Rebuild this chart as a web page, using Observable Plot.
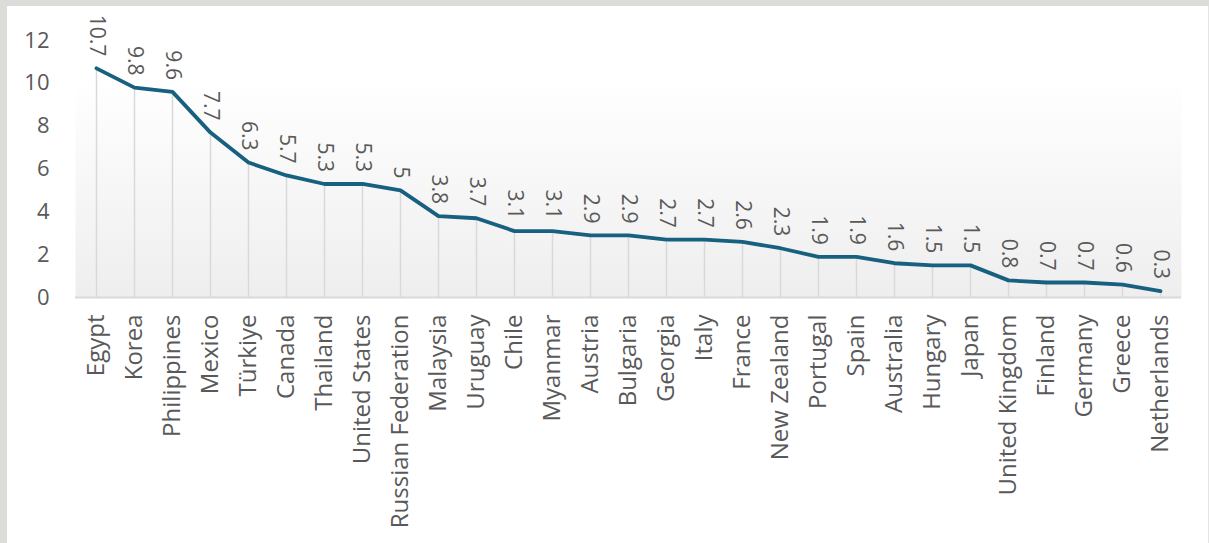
<!DOCTYPE html>
<html>
<head>
<meta charset="utf-8">
<script src="https://cdn.jsdelivr.net/npm/d3@7"></script>
<script src="https://cdn.jsdelivr.net/npm/@observablehq/plot@0.6"></script>
<style>
  html, body { margin: 0; padding: 0; background: #ffffff; }
  #frame { position: absolute; left: 0; top: 0; width: 1209px; height: 543px; background: #dcdcd8; overflow: hidden; }
  #inner { position: absolute; left: 7px; top: 6px; width: 1201px; height: 537px; background: #ffffff; border-right: 1px solid #e4e4e4; }
  #chart { position: absolute; left: 0; top: 0; }
</style>
</head>
<body>
<div id="frame"><div id="inner"><div id="chart"></div></div></div>
<script>
const countries = ["Egypt","Korea","Philippines","Mexico","Türkiye","Canada","Thailand","United States","Russian Federation","Malaysia","Uruguay","Chile","Myanmar","Austria","Bulgaria","Georgia","Italy","France","New Zealand","Portugal","Spain","Australia","Hungary","Japan","United Kingdom","Finland","Germany","Greece","Netherlands"];
const values = [10.7,9.8,9.6,7.7,6.3,5.7,5.3,5.3,5,3.8,3.7,3.1,3.1,2.9,2.9,2.7,2.7,2.6,2.3,1.9,1.9,1.6,1.5,1.5,0.8,0.7,0.7,0.6,0.3];
const yTicks = [0,2,4,6,8,10,12];

const data = countries.map((c, i) => ({country: c, value: values[i]}));

const gradDefs = () => {
  const defs = d3.create("svg:defs");
  const g = defs.append("linearGradient").attr("id", "bgGrad").attr("x1", 0).attr("y1", 0).attr("x2", 0).attr("y2", 1);
  g.append("stop").attr("offset", "0%").attr("stop-color", "#ffffff");
  g.append("stop").attr("offset", "15%").attr("stop-color", "#ffffff");
  g.append("stop").attr("offset", "100%").attr("stop-color", "#eeeeee");
  return defs.node();
};

const chart = Plot.plot({
  width: 1201,
  height: 537,
  marginLeft: 68,
  marginRight: 27,
  marginTop: 34,
  marginBottom: 246,
  style: { fontFamily: "'Open Sans', sans-serif", fontSize: "21px", color: "#595959", background: "transparent", overflow: "visible" },
  x: { type: "point", domain: countries, padding: 0.5, label: null },
  y: { domain: [0, 12], label: null },
  marks: [
    gradDefs,
    Plot.frame({ fill: "url(#bgGrad)", stroke: null }),
    Plot.ruleX(data, { x: "country", y1: 0, y2: "value", stroke: "#d9d9d9", strokeWidth: 1.5 }),
    Plot.ruleY([0], { stroke: "#d9d9d9", strokeWidth: 2 }),
    Plot.axisY({ ticks: yTicks, tickSize: 0, tickPadding: 26, fontSize: 22, fill: "#595959", label: null }),
    Plot.axisX({ tickSize: 0, tickPadding: 17, tickRotate: -90, fontSize: 24, fill: "#595959", label: null }),
    Plot.line(data, { x: "country", y: "value", stroke: "#17607f", strokeWidth: 3.8, strokeLinejoin: "round", strokeLinecap: "round" }),
    Plot.text(data, { x: "country", y: "value", text: d => String(d.value), rotate: 90, textAnchor: "end", dy: -12, fontSize: 21, fill: "#595959" })
  ]
});
document.getElementById("chart").appendChild(chart);
</script>
</body>
</html>
